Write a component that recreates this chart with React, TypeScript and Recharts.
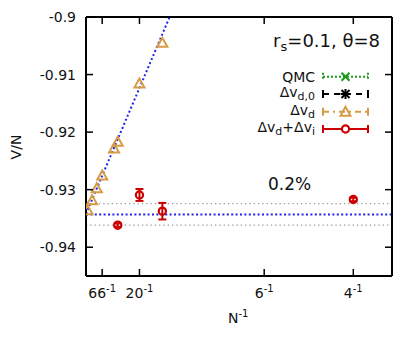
import * as React from 'react';
import { ComposedChart, XAxis, YAxis, Scatter, Line, ErrorBar, ReferenceLine } from 'recharts';

const W = 412;
const H = 339;
// axes are 1px thick boxes, so the plot area is 78..384 x 9..268
const M = { top: 8, right: 27, bottom: 70, left: 77 };

// axes
const xTickNs = [66, 20, 6, 4];
const xTicks = xTickNs.map((n) => 1 / n);
const yTicks = [-0.94, -0.93, -0.92, -0.91, -0.9];

// Δv_d (open triangles)
const dvdInvN = [0.0015, 0.0057, 0.0101, 0.0152, 0.0262, 0.0297, 0.05, 0.0714];
const dvdV = [-0.93358, -0.93185, -0.92974, -0.92754, -0.92285, -0.92168, -0.91155, -0.90448];

// Δv_d + Δv_i (circles with error bars)
const dviInvN = [0.0297, 0.05, 0.0714, 0.25];
const dviV = [-0.93617, -0.93092, -0.93374, -0.93171];
const dviErr = [0.0003, 0.00104, 0.00144, 0.0003];

// linear fit through the triangles and the extrapolated value
const fitInvN = [0, 0.0782];
const fitV = [-0.9342, -0.9];
const extrapV = -0.9343;
const band = 0.002; // 0.2%

const BLUE = '#2222ee';
const ORANGE = '#d69c45';
const RED = '#cc0000';
const GREEN = '#1f9a1f';

const dvdData = dvdInvN.map((x, i) => ({ x, y: dvdV[i] }));
const dviData = dviInvN.map((x, i) => ({ x, y: dviV[i], err: dviErr[i] }));
const fitData = fitInvN.map((x, i) => ({ x, y: fitV[i] }));

const Tri = ({ cx, cy, color }: any) => (
    <polygon
        points={`${cx},${cy - 5} ${cx - 5},${cy + 4} ${cx + 5},${cy + 4}`}
        fill="none"
        stroke={color}
        strokeWidth={2}
        strokeLinejoin="miter"
    />
);

const Circ = ({ cx, cy }: any) => <circle cx={cx} cy={cy} r={3.6} fill="none" stroke={RED} strokeWidth={2.2} />;

const BottomTick = (props: any) => {
    const { x, y, payload } = props;
    const n = Math.round(1 / payload.value);
    return (
        <g>
            <line x1={x} y1={y} x2={x} y2={y - 7} stroke="#000" strokeWidth={1.5} />
            <text x={x} y={y + 22} textAnchor="middle" fontSize={14} fill="#111">
                {n}
                <tspan dy={-6} fontSize={10}>-1</tspan>
            </text>
        </g>
    );
};

const TopTick = (props: any) => {
    const { x, y } = props;
    return <line x1={x} y1={y} x2={x} y2={y + 7} stroke="#000" strokeWidth={1.5} />;
};

const LeftTick = (props: any) => {
    const { x, y, payload } = props;
    return (
        <g>
            <line x1={x} y1={y} x2={x + 7} y2={y} stroke="#000" strokeWidth={1.5} />
            <text x={x - 10} y={y + 5} textAnchor="end" fontSize={14} fill="#111">
                {String(payload.value)}
            </text>
        </g>
    );
};

const RightTick = (props: any) => {
    const { x, y } = props;
    return <line x1={x} y1={y} x2={x - 7} y2={y} stroke="#000" strokeWidth={1.5} />;
};

// legend sample: from x0 to x1 at row y
const LX0 = 315;
const LX1 = 360;
const LXM = (LX0 + LX1) / 2;
const legendRows = [68.7, 86, 103.7, 121];

const Caps = ({ y, color, dash }: any) => (
    <g stroke={color} strokeWidth={2} strokeDasharray={dash}>
        <line x1={LX0} y1={y - 4} x2={LX0} y2={y + 4} />
        <line x1={LX1} y1={y - 4} x2={LX1} y2={y + 4} />
    </g>
);

const Overlay = () => (
    <svg
        width={W}
        height={H}
        style={{ position: 'absolute', left: 0, top: 0, pointerEvents: 'none' }}
        fontFamily="DejaVu Sans"
        fill="#111"
    >
        <text transform="translate(13,139) rotate(-90)" textAnchor="middle" fontSize={14}>V/N</text>
        <text x={220} y={315} fontSize={14}>
            N<tspan dy={-6} fontSize={10}>-1</tspan>
        </text>
        <text x={372} y={39} textAnchor="end" fontSize={18}>
            r<tspan dy={4} fontSize={13}>s</tspan>
            <tspan dy={-4}>=0.1, θ=8</tspan>
        </text>
        <text x={260} y={182} fontSize={17}>0.2%</text>

        {/* legend */}
        <text x={307} y={legendRows[0] + 5} textAnchor="end" fontSize={14}>QMC</text>
        <text x={307} y={legendRows[1] + 3} textAnchor="end" fontSize={14}>
            Δv<tspan dy={3} fontSize={11}>d,0</tspan>
        </text>
        <text x={307} y={legendRows[2] + 3} textAnchor="end" fontSize={14}>
            Δv<tspan dy={3} fontSize={11}>d</tspan>
        </text>
        <text x={307} y={legendRows[3] + 3} textAnchor="end" fontSize={14}>
            Δv<tspan dy={3} fontSize={11}>d</tspan>
            <tspan dy={-3}>+Δv</tspan>
            <tspan dy={3} fontSize={11}>i</tspan>
        </text>

        {/* QMC */}
        <line x1={LX0} y1={legendRows[0]} x2={LX1} y2={legendRows[0]} stroke={GREEN} strokeWidth={2} strokeDasharray="2 2" />
        <Caps y={legendRows[0]} color={GREEN} dash="2 2" />
        <g stroke={GREEN} strokeWidth={2.2}>
            <line x1={LXM - 4} y1={legendRows[0] - 4} x2={LXM + 4} y2={legendRows[0] + 4} />
            <line x1={LXM - 4} y1={legendRows[0] + 4} x2={LXM + 4} y2={legendRows[0] - 4} />
        </g>

        {/* Δv_d,0 */}
        <line x1={LX0} y1={legendRows[1]} x2={LX1} y2={legendRows[1]} stroke="#000" strokeWidth={2} strokeDasharray="6 5" />
        <Caps y={legendRows[1]} color="#000" />
        <g stroke="#000" strokeWidth={2}>
            <line x1={LXM - 4} y1={legendRows[1] - 4} x2={LXM + 4} y2={legendRows[1] + 4} />
            <line x1={LXM - 4} y1={legendRows[1] + 4} x2={LXM + 4} y2={legendRows[1] - 4} />
            <line x1={LXM - 5} y1={legendRows[1]} x2={LXM + 5} y2={legendRows[1]} />
            <line x1={LXM} y1={legendRows[1] - 5} x2={LXM} y2={legendRows[1] + 5} />
        </g>

        {/* Δv_d */}
        <line x1={LX0} y1={legendRows[2]} x2={LX1} y2={legendRows[2]} stroke={ORANGE} strokeWidth={2} strokeDasharray="6 4 2 4" />
        <Caps y={legendRows[2]} color={ORANGE} />
        <Tri cx={LXM} cy={legendRows[2]} color={ORANGE} />

        {/* Δv_d + Δv_i */}
        <line x1={LX0} y1={legendRows[3]} x2={LX1} y2={legendRows[3]} stroke={RED} strokeWidth={2} />
        <Caps y={legendRows[3]} color={RED} />
        <circle cx={LXM} cy={legendRows[3]} r={3.6} fill="#fff" stroke={RED} strokeWidth={2.2} />
    </svg>
);

const App: React.FC = () => {
    return (
        <div style={{ position: 'relative', width: W, height: H, fontFamily: 'DejaVu Sans' }}>
            <ComposedChart width={W} height={H} margin={M}>
                <XAxis
                    dataKey="x"
                    type="number"
                    domain={[0, 0.2862]}
                    ticks={xTicks}
                    interval={0}
                    allowDataOverflow
                    height={1}
                    tickSize={0}
                    tickMargin={0}
                    tickLine={false}
                    tick={<BottomTick />}
                    axisLine={{ stroke: '#000', strokeWidth: 2 }}
                />
                <XAxis
                    xAxisId="top"
                    orientation="top"
                    dataKey="x"
                    type="number"
                    domain={[0, 0.2862]}
                    ticks={xTicks}
                    interval={0}
                    allowDataOverflow
                    height={1}
                    tickSize={0}
                    tickMargin={0}
                    tickLine={false}
                    tick={<TopTick />}
                    axisLine={{ stroke: '#000', strokeWidth: 2 }}
                />
                <YAxis
                    dataKey="y"
                    type="number"
                    domain={[-0.945, -0.9]}
                    ticks={yTicks}
                    interval={0}
                    allowDataOverflow
                    width={1}
                    tickSize={0}
                    tickMargin={0}
                    tickLine={false}
                    tick={<LeftTick />}
                    axisLine={{ stroke: '#000', strokeWidth: 2 }}
                />
                <YAxis
                    yAxisId="right"
                    orientation="right"
                    dataKey="y"
                    type="number"
                    domain={[-0.945, -0.9]}
                    ticks={yTicks}
                    interval={0}
                    allowDataOverflow
                    width={1}
                    tickSize={0}
                    tickMargin={0}
                    tickLine={false}
                    tick={<RightTick />}
                    axisLine={{ stroke: '#000', strokeWidth: 2 }}
                />
                <ReferenceLine y={extrapV * (1 - band)} stroke="#999" strokeWidth={1.2} strokeDasharray="1.3 3" />
                <ReferenceLine y={extrapV * (1 + band)} stroke="#999" strokeWidth={1.2} strokeDasharray="1.3 3" />
                <ReferenceLine y={extrapV} stroke={BLUE} strokeWidth={2} strokeDasharray="2 2.4" />
                <Line
                    data={fitData}
                    dataKey="y"
                    type="linear"
                    stroke={BLUE}
                    strokeWidth={2}
                    strokeDasharray="2 2.4"
                    dot={false}
                    isAnimationActive={false}
                />
                <Scatter
                    data={dvdData}
                    dataKey="y"
                    shape={(p: any) => <Tri cx={p.cx} cy={p.cy} color={ORANGE} />}
                    isAnimationActive={false}
                />
                <Scatter data={dviData} dataKey="y" shape={(p: any) => <Circ cx={p.cx} cy={p.cy} />} isAnimationActive={false}>
                    <ErrorBar dataKey="err" direction="y" width={4} stroke={RED} strokeWidth={2} isAnimationActive={false} />
                </Scatter>
            </ComposedChart>
            <Overlay />
        </div>
    );
};

export default App;
